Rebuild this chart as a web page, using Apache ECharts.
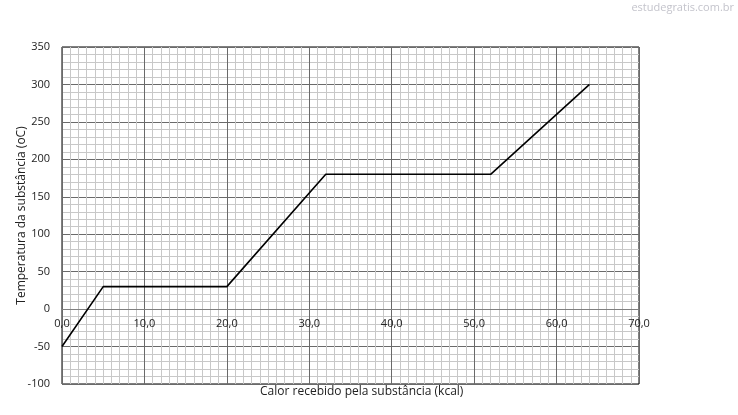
<!DOCTYPE html>
<html>
<head>
<meta charset="utf-8">
<script src="https://cdn.jsdelivr.net/npm/echarts@6/dist/echarts.min.js"></script>
<style>html,body{margin:0;padding:0;background:#fff;}#c{width:738px;height:415px;}</style>
</head>
<body>
<div id="c"></div>
<script>
const heatKcal = [0, 5, 20, 32, 52, 64];
const temperatureC = [-50, 30, 30, 180, 180, 300];
const xTitle = 'Calor recebido pela substância (kcal)';
const yTitle = 'Temperatura da substância (oC)';
const watermark = 'estudegratis.com.br';

const chart = echarts.init(document.getElementById('c'));
const font = '"Open Sans", "Noto Sans", sans-serif';
chart.setOption({
  animation: false,
  backgroundColor: '#fff',
  grid: { left: 62, right: 99, top: 47, bottom: 31, show: true, borderColor: '#000', borderWidth: 1,
          outerBoundsMode: 'none', containLabel: false },
  xAxis: {
    type: 'value', min: 0, max: 70, interval: 10,
    offset: -75,
    axisLine: { show: true, onZero: false, lineStyle: { color: '#808080', width: 1 } },
    axisTick: { show: false },
    axisLabel: { margin: 9, color: '#222', fontSize: 11, fontFamily: font,
      formatter: v => v.toFixed(1).replace('.', ',') },
    splitLine: { show: true, lineStyle: { color: '#6a6a6a', width: 1 } },
    minorTick: { show: false, splitNumber: 10 },
    minorSplitLine: { show: true, lineStyle: { color: '#c8c8c8', width: 1 } }
  },
  yAxis: {
    type: 'value', min: -100, max: 350, interval: 50,
    name: yTitle, nameLocation: 'middle', nameGap: 34, nameMoveOverlap: false,
    nameTextStyle: { color: '#222', fontSize: 12, fontFamily: font },
    axisLine: { show: false },
    axisTick: { show: false },
    axisLabel: { margin: 12, color: '#222', fontSize: 11, fontFamily: font },
    splitLine: { show: true, lineStyle: { color: '#6a6a6a', width: 1 } },
    minorTick: { show: false, splitNumber: 5 },
    minorSplitLine: { show: true, lineStyle: { color: '#c8c8c8', width: 1 } }
  },
  graphic: [
    { type: 'text', left: 350 - 90, top: 386, style: { text: xTitle, fill: '#222', font: '12px ' + font } },
    { type: 'text', right: 4, top: 2, style: { text: watermark, fill: '#c4c4cc', font: '11px ' + font } }
  ],
  series: [{
    type: 'line',
    data: heatKcal.map((x, i) => [x, temperatureC[i]]),
    showSymbol: false,
    lineStyle: { color: '#000', width: 1.6 },
    z: 5
  }]
});
</script>
</body>
</html>
